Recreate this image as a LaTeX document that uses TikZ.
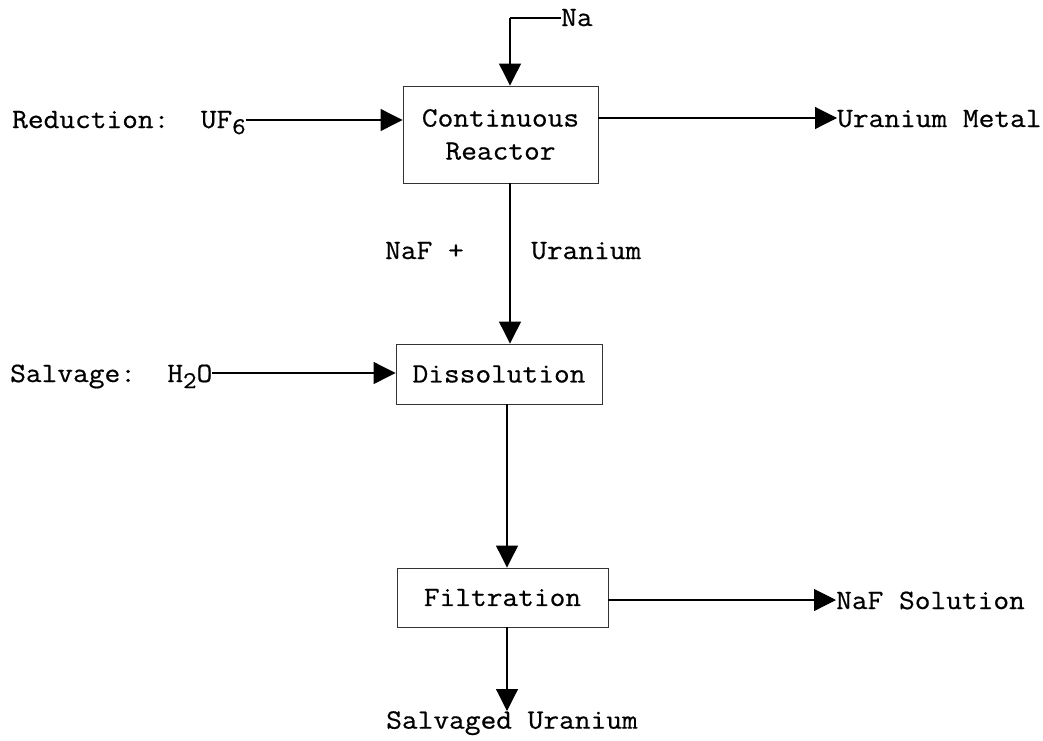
\documentclass[tikz,border=0pt]{standalone}
\usepackage{fontspec}
\setmainfont{Latin Modern Mono}[FakeStretch=1.09,FakeBold=0.6]
\usetikzlibrary{arrows.meta,calc}
\tikzset{
  proc/.style={draw=black!80, line width=0.9pt, inner sep=0pt, align=center, font=\fontsize{28}{33}\selectfont},
  lbl/.style={inner sep=0pt, font=\fontsize{28}{33}\selectfont},
  flow/.style={line width=1.1pt, -{Triangle[length=22pt,width=22pt]}},
  plain/.style={line width=1.1pt},
}
\newcommand{\lowsub}[1]{\raisebox{-0.5ex}{\fontsize{24}{24}\selectfont #1}}
\begin{document}
\begin{tikzpicture}[x=1pt,y=1pt]
\useasboundingbox (0,0) rectangle (1043,-740);
% process boxes
\node[proc, minimum width=195, minimum height=97] (reactor) at (500.5,-134.5) {Continuous\\Reactor};
\node[proc, minimum width=206, minimum height=60] (diss) at (499,-374) {Dissolution};
\node[proc, minimum width=211, minimum height=59] (filt) at (502.5,-597.5) {Filtration};
% labels
\node[lbl, anchor=base west] (na) at (561,-26) {Na};
\node[lbl, anchor=base west] (uf) at (12,-128) {Reduction:~~UF\lowsub{6}};
\node[lbl, anchor=base west] (h2o) at (10,-382) {Salvage:~~H\lowsub{2}O};
\node[lbl, anchor=base west] (metal) at (837,-127) {Uranium Metal};
\node[lbl, anchor=base west] (nafsol) at (836,-609) {NaF Solution};
\node[lbl, anchor=north] (salv) at (512,-711) {Salvaged Uranium};
\node[lbl, anchor=base west] (naf) at (385,-259) {NaF +};
\node[lbl, anchor=base west] (uran) at (531,-259) {Uranium};
% connectors
\coordinate (nacorner) at (510,-18);
\draw[plain] (na.west |- nacorner) -- (nacorner);
\draw[flow] (nacorner) -- (nacorner |- reactor.north);
\draw[flow] (uf.east |- 0,-120) -- (reactor.west |- 0,-120);
\draw[flow] (reactor.east |- 0,-118) -- (metal.west |- 0,-118);
\draw[flow] ([xshift=9.5pt]reactor.south) -- ([xshift=11pt]diss.north);
\draw[flow] (h2o.east |- 0,-373) -- (diss.west |- 0,-373);
\draw[flow] ([xshift=8pt]diss.south) -- ([xshift=4.5pt]filt.north);
\draw[flow] (filt.east |- 0,-600) -- (nafsol.west |- 0,-600);
\draw[flow] ([xshift=4.5pt]filt.south) -- ([xshift=-5pt]salv.north);
\end{tikzpicture}
\end{document}
